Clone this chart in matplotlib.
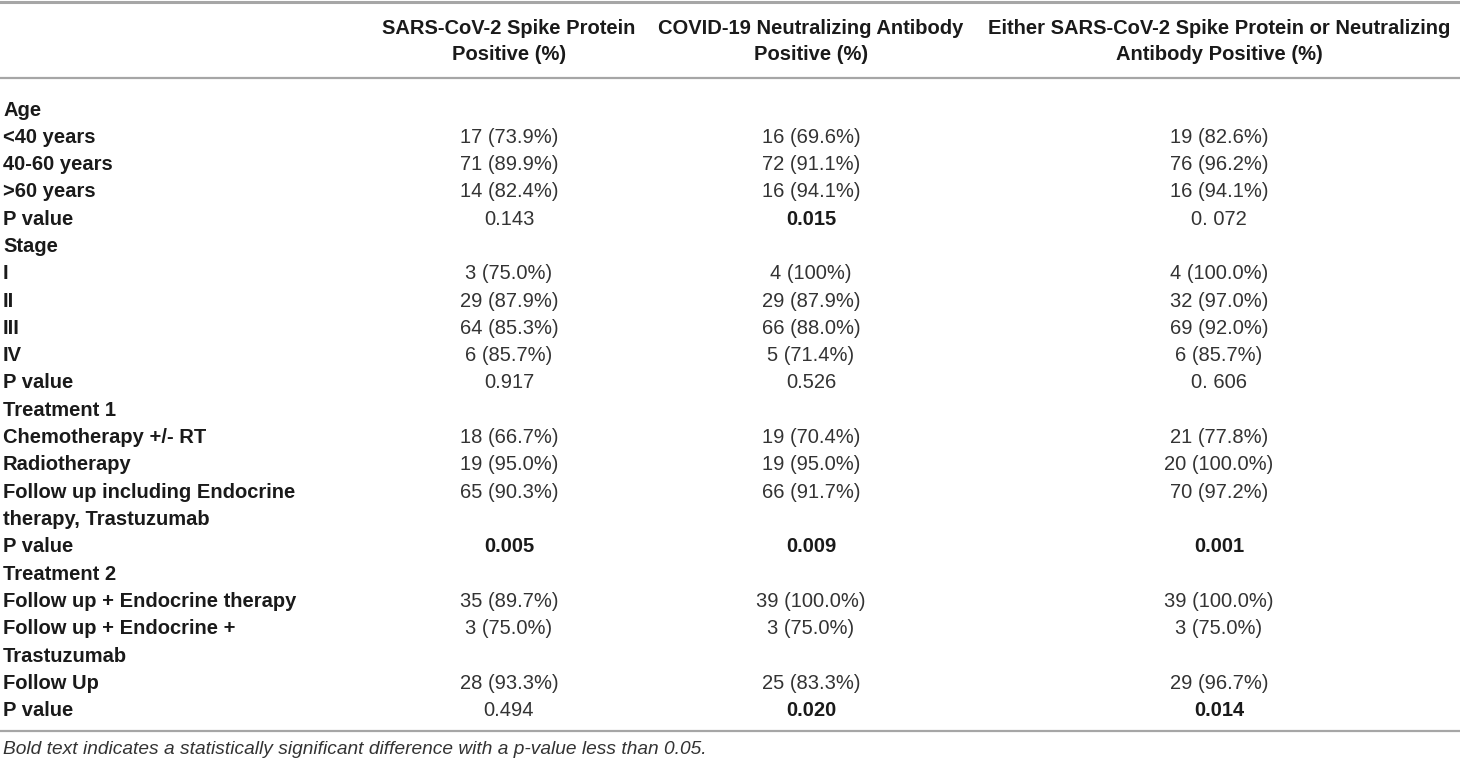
import matplotlib

matplotlib.use("Agg")
import matplotlib.pyplot as plt

# table content
headers = [
    "SARS-CoV-2 Spike Protein\nPositive (%)",
    "COVID-19 Neutralizing Antibody\nPositive (%)",
    "Either SARS-CoV-2 Spike Protein or Neutralizing\nAntibody Positive (%)",
]
row_labels = [
    "Age", "<40 years", "40-60 years", ">60 years", "P value",
    "Stage", "I", "II", "III", "IV", "P value",
    "Treatment 1", "Chemotherapy +/- RT", "Radiotherapy",
    "Follow up including Endocrine", "therapy, Trastuzumab", "P value",
    "Treatment 2", "Follow up + Endocrine therapy", "Follow up + Endocrine +",
    "Trastuzumab", "Follow Up", "P value",
]
spike = [
    "", "17 (73.9%)", "71 (89.9%)", "14 (82.4%)", "0.143",
    "", "3 (75.0%)", "29 (87.9%)", "64 (85.3%)", "6 (85.7%)", "0.917",
    "", "18 (66.7%)", "19 (95.0%)", "65 (90.3%)", "", "0.005",
    "", "35 (89.7%)", "3 (75.0%)", "", "28 (93.3%)", "0.494",
]
neutral = [
    "", "16 (69.6%)", "72 (91.1%)", "16 (94.1%)", "0.015",
    "", "4 (100%)", "29 (87.9%)", "66 (88.0%)", "5 (71.4%)", "0.526",
    "", "19 (70.4%)", "19 (95.0%)", "66 (91.7%)", "", "0.009",
    "", "39 (100.0%)", "3 (75.0%)", "", "25 (83.3%)", "0.020",
]
either = [
    "", "19 (82.6%)", "76 (96.2%)", "16 (94.1%)", "0. 072",
    "", "4 (100.0%)", "32 (97.0%)", "69 (92.0%)", "6 (85.7%)", "0. 606",
    "", "21 (77.8%)", "20 (100.0%)", "70 (97.2%)", "", "0.001",
    "", "39 (100.0%)", "3 (75.0%)", "", "29 (96.7%)", "0.014",
]
footnote = "Bold text indicates a statistically significant difference with a p-value less than 0.05."

FONT = ["Liberation Sans", "DejaVu Sans"]
FS = 14.5
LINE_C = "#a6a6a6"
W, H = 1460, 763

fig = plt.figure(figsize=(W / 100, H / 100), dpi=100)
ax = fig.add_axes([0, 0, 1, 1])
ax.set_xlim(0, W)
ax.set_ylim(H, 0)
ax.axis("off")

col_x = [509, 811, 1219]
row_y0, row_dy = 110, 27.3

# horizontal rules
for y, lw in [(2, 2.2), (78, 1.6), (731, 1.6)]:
    ax.axhline(y, color=LINE_C, linewidth=lw)

# header
for x, h in zip(col_x, headers):
    ax.text(x, 41.5, h, ha="center", va="center", fontsize=FS, family=FONT,
            fontweight="bold", color="#1a1a1a", linespacing=1.45)


def is_sig(label, val):
    if label != "P value" or not val:
        return False
    return float(val.replace(" ", "")) < 0.05


for i, label in enumerate(row_labels):
    y = row_y0 + i * row_dy
    ax.text(3, y, label, ha="left", va="center", fontsize=FS, family=FONT,
            fontweight="bold", color="#1a1a1a")
    for x, col in zip(col_x, [spike, neutral, either]):
        v = col[i]
        if not v:
            continue
        bold = is_sig(label, v)
        ax.text(x, y, v, ha="center", va="center", fontsize=FS, family=FONT,
                fontweight="bold" if bold else "normal",
                color="#1a1a1a" if bold else "#333333")

ax.text(3, 750, footnote, ha="left", va="center", fontsize=13.8, family=FONT,
        style="italic", color="#333333")

fig.savefig("out.png", dpi=100)
